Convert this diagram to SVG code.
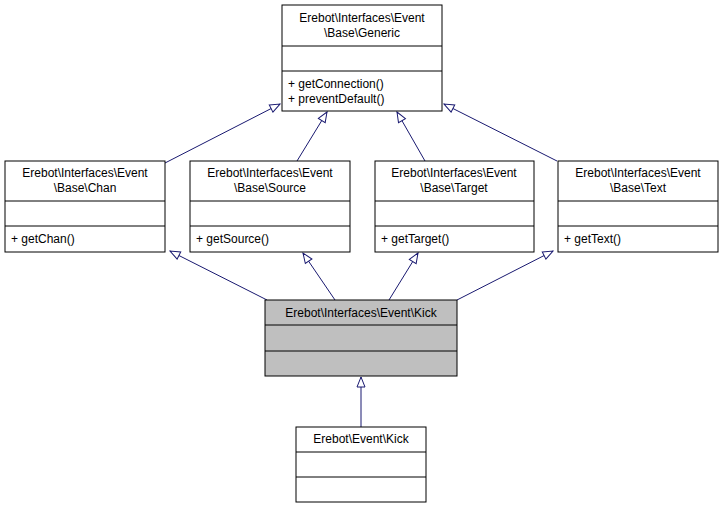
<svg xmlns="http://www.w3.org/2000/svg" width="723" height="508" viewBox="0 0 723 508">
<style>
.b{fill:#fff;stroke:#000;stroke-width:1}
.g{fill:#bfbfbf;stroke:#000;stroke-width:1}
text{font-family:"Liberation Sans",Arial,sans-serif;font-size:12px;fill:#000}
.c{text-anchor:middle}
.e{stroke:#191970;stroke-width:1;fill:none;marker-end:url(#a)}
</style>
<defs><marker id="a" markerWidth="12" markerHeight="12" refX="11" refY="5" orient="auto" markerUnits="userSpaceOnUse"><path d="M1,1 L11,5 L1,9 Z" fill="#fff" stroke="#191970"/></marker></defs>
<g id="connectors">
<path class="e" d="M165,163 L280,104"/>
<path class="e" d="M297,161 L327,112"/>
<path class="e" d="M425,161 L397,112"/>
<path class="e" d="M557,161 L444,104"/>
<path class="e" d="M267,300 L170,251"/>
<path class="e" d="M335,300 L303,253"/>
<path class="e" d="M389,300 L418,253"/>
<path class="e" d="M457,300 L553,251"/>
<path class="e" d="M361,427 L361,377"/>
</g>
<g id="generic"><rect class="b" x="282" y="5" width="160" height="106"/><path d="M282,46H442M282,71H442" stroke="#000"/>
<text class="c" x="362" y="22">Erebot\Interfaces\Event</text><text class="c" x="362" y="37">\Base\Generic</text>
<text x="288" y="88">+ getConnection()</text><text x="288" y="103">+ preventDefault()</text></g>
<g id="chan"><rect class="b" x="5" y="161" width="160" height="91"/><path d="M5,201H165M5,226H165" stroke="#000"/>
<text class="c" x="85" y="177">Erebot\Interfaces\Event</text><text class="c" x="85" y="192">\Base\Chan</text><text x="11" y="243">+ getChan()</text></g>
<g id="source"><rect class="b" x="190" y="161" width="160" height="91"/><path d="M190,201H350M190,226H350" stroke="#000"/>
<text class="c" x="270" y="177">Erebot\Interfaces\Event</text><text class="c" x="270" y="192">\Base\Source</text><text x="196" y="243">+ getSource()</text></g>
<g id="target"><rect class="b" x="375" y="161" width="159" height="91"/><path d="M375,201H534M375,226H534" stroke="#000"/>
<text class="c" x="454" y="177">Erebot\Interfaces\Event</text><text class="c" x="454" y="192">\Base\Target</text><text x="381" y="243">+ getTarget()</text></g>
<g id="text"><rect class="b" x="558" y="161" width="160" height="91"/><path d="M558,201H718M558,226H718" stroke="#000"/>
<text class="c" x="638" y="177">Erebot\Interfaces\Event</text><text class="c" x="638" y="192">\Base\Text</text><text x="564" y="243">+ getText()</text></g>
<g id="kick"><rect class="g" x="265" y="300" width="192" height="76"/><path d="M265,325H457M265,351H457" stroke="#000"/>
<text class="c" x="361" y="317">Erebot\Interfaces\Event\Kick</text></g>
<g id="eventkick"><rect class="b" x="296" y="427" width="130" height="75"/><path d="M296,452H426M296,477H426" stroke="#000"/>
<text class="c" x="361" y="443">Erebot\Event\Kick</text></g>
</svg>
